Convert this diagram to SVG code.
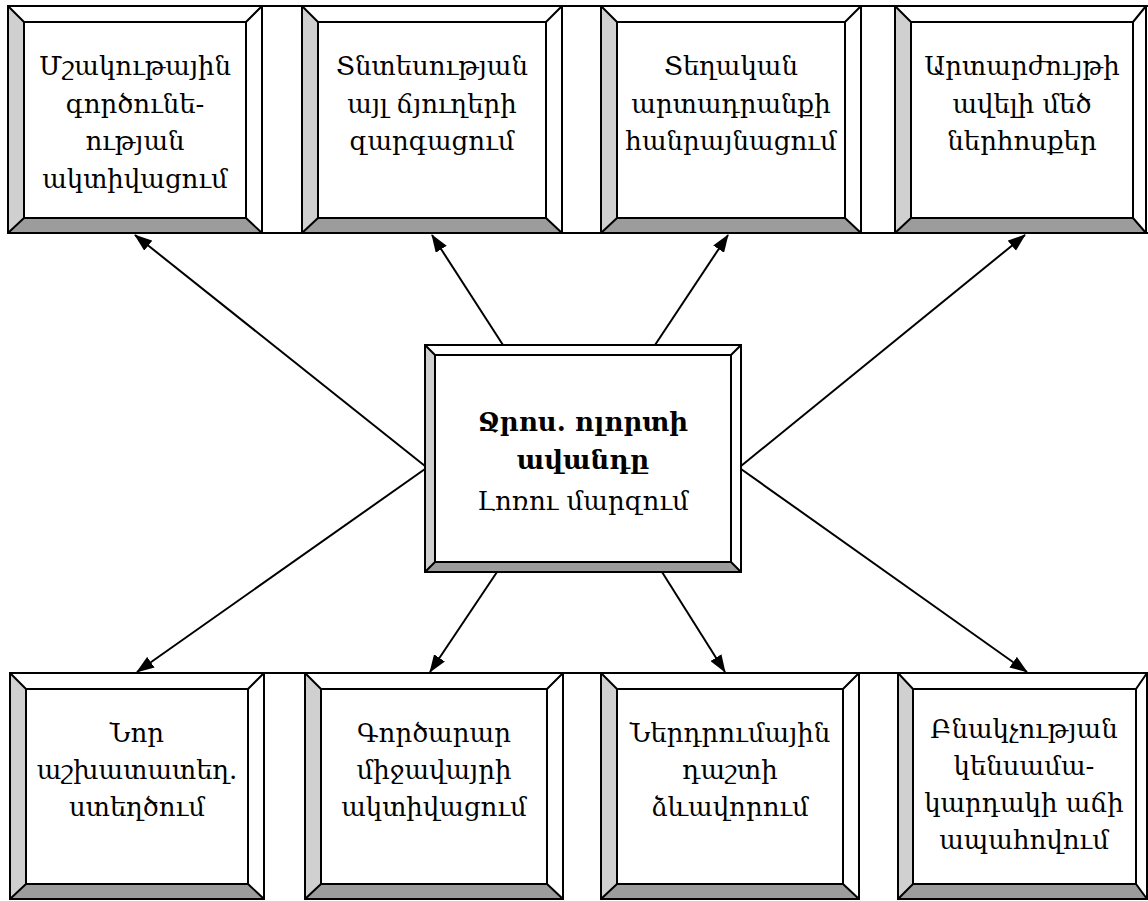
<svg xmlns="http://www.w3.org/2000/svg" width="1148" height="901" viewBox="0 0 1148 901">
<defs>
<style>
.t{fill:#fff}
.l{fill:#d0d0d0}
.b{fill:#9c9c9c}
.o{fill:none;stroke:#000;stroke-width:2}
.ln{stroke:#000;stroke-width:2;fill:none}
.tx{font-family:"DejaVu Serif","Noto Serif",serif;font-size:26px;text-anchor:middle;fill:#000}
.bd{font-weight:bold}
</style>
<marker id="ah" markerWidth="18" markerHeight="13" refX="17" refY="6.5" orient="auto" markerUnits="userSpaceOnUse">
<path d="M0,0 L18,6.5 L0,13 Z" fill="#000"/>
</marker>
</defs>
<rect width="1148" height="901" fill="#fff"/>
<g id="rows" class="ln">
<line x1="8" y1="6" x2="1148" y2="6"/>
<line x1="8" y1="233" x2="1148" y2="233"/>
<line x1="10" y1="673" x2="1148" y2="673"/>
</g>
<g id="connectors" class="ln">
<line x1="425" y1="466" x2="135" y2="235" marker-end="url(#ah)"/>
<line x1="503" y1="345" x2="432" y2="235" marker-end="url(#ah)"/>
<line x1="655" y1="345" x2="728" y2="235" marker-end="url(#ah)"/>
<line x1="741" y1="466" x2="1025" y2="235" marker-end="url(#ah)"/>
<line x1="425" y1="469" x2="137" y2="672" marker-end="url(#ah)"/>
<line x1="497" y1="572" x2="430" y2="672" marker-end="url(#ah)"/>
<line x1="662" y1="572" x2="725" y2="672" marker-end="url(#ah)"/>
<line x1="741" y1="469" x2="1027" y2="672" marker-end="url(#ah)"/>
</g>
<g id="top1">
<polygon class="t" points="8,6 262,6 246,22 24,22"/>
<polygon class="l" points="8,6 24,22 24,218 8,233"/>
<polygon class="b" points="8,233 24,218 246,218 262,233"/>
<polygon class="t" points="262,6 262,233 246,218 246,22"/>
<rect class="o" x="8" y="6" width="254" height="227"/>
<rect class="o" x="24" y="22" width="222" height="196" fill="#fff"/>
<path class="o" d="M8,6 L24,22 M262,6 L246,22 M8,233 L24,218 M262,233 L246,218"/>
<text class="tx" x="135" y="75">Մշակութային</text>
<text class="tx" x="135" y="113">գործունե-</text>
<text class="tx" x="135" y="150">ության</text>
<text class="tx" x="135" y="188">ակտիվացում</text>
</g>
<g id="top2">
<polygon class="l" points="302,6 318,22 318,218 302,233"/>
<polygon class="b" points="302,233 318,218 546,218 562,233"/>
<rect class="o" x="302" y="6" width="260" height="227"/>
<rect class="o" x="318" y="22" width="228" height="196" fill="#fff"/>
<path class="o" d="M302,6 L318,22 M562,6 L546,22 M302,233 L318,218 M562,233 L546,218"/>
<text class="tx" x="432" y="75">Տնտեսության</text>
<text class="tx" x="432" y="113">այլ ճյուղերի</text>
<text class="tx" x="432" y="150">զարգացում</text>
</g>
<g id="top3">
<polygon class="l" points="601,6 617,22 617,218 601,233"/>
<polygon class="b" points="601,233 617,218 845,218 861,233"/>
<rect class="o" x="601" y="6" width="260" height="227"/>
<rect class="o" x="617" y="22" width="228" height="196" fill="#fff"/>
<path class="o" d="M601,6 L617,22 M861,6 L845,22 M601,233 L617,218 M861,233 L845,218"/>
<text class="tx" x="731" y="75">Տեղական</text>
<text class="tx" x="731" y="113">արտադրանքի</text>
<text class="tx" x="731" y="150">հանրայնացում</text>
</g>
<g id="top4">
<polygon class="l" points="895,6 911,22 911,218 895,233"/>
<polygon class="b" points="895,233 911,218 1133,218 1146,233"/>
<rect class="o" x="895" y="6" width="251" height="227"/>
<rect class="o" x="911" y="22" width="222" height="196" fill="#fff"/>
<path class="o" d="M895,6 L911,22 M1146,6 L1133,22 M895,233 L911,218 M1146,233 L1133,218"/>
<text class="tx" x="1022" y="75">Արտարժույթի</text>
<text class="tx" x="1022" y="113">ավելի մեծ</text>
<text class="tx" x="1022" y="150">ներհոսքեր</text>
</g>
<g id="center">
<polygon class="l" points="425,345 435,355 435,562 425,572"/>
<polygon class="b" points="425,572 435,562 731,562 741,572"/>
<rect class="o" x="425" y="345" width="316" height="227"/>
<rect class="o" x="435" y="355" width="296" height="207" fill="#fff"/>
<path class="o" d="M425,345 L435,355 M741,345 L731,355 M425,572 L435,562 M741,572 L731,562"/>
<text class="tx bd" x="583" y="431">Ջրոս. ոլորտի</text>
<text class="tx bd" x="583" y="469">ավանդը</text>
<text class="tx" x="583" y="510">Լոռու մարզում</text>
</g>
<g id="bot1">
<polygon class="l" points="10,673 26,689 26,884 10,899"/>
<polygon class="b" points="10,899 26,884 248,884 264,899"/>
<rect class="o" x="10" y="673" width="254" height="226"/>
<rect class="o" x="26" y="689" width="222" height="195" fill="#fff"/>
<path class="o" d="M10,673 L26,689 M264,673 L248,689 M10,899 L26,884 M264,899 L248,884"/>
<text class="tx" x="137" y="742">Նոր</text>
<text class="tx" x="137" y="779">աշխատատեղ.</text>
<text class="tx" x="137" y="816">ստեղծում</text>
</g>
<g id="bot2">
<polygon class="l" points="305,673 321,689 321,884 305,899"/>
<polygon class="b" points="305,899 321,884 547,884 563,899"/>
<rect class="o" x="305" y="673" width="258" height="226"/>
<rect class="o" x="321" y="689" width="226" height="195" fill="#fff"/>
<path class="o" d="M305,673 L321,689 M563,673 L547,689 M305,899 L321,884 M563,899 L547,884"/>
<text class="tx" x="434" y="742">Գործարար</text>
<text class="tx" x="434" y="779">միջավայրի</text>
<text class="tx" x="434" y="816">ակտիվացում</text>
</g>
<g id="bot3">
<polygon class="l" points="601,673 617,689 617,884 601,899"/>
<polygon class="b" points="601,899 617,884 843,884 859,899"/>
<rect class="o" x="601" y="673" width="258" height="226"/>
<rect class="o" x="617" y="689" width="226" height="195" fill="#fff"/>
<path class="o" d="M601,673 L617,689 M859,673 L843,689 M601,899 L617,884 M859,899 L843,884"/>
<text class="tx" x="730" y="742">Ներդրումային</text>
<text class="tx" x="730" y="779">դաշտի</text>
<text class="tx" x="730" y="816">ձևավորում</text>
</g>
<g id="bot4">
<polygon class="l" points="898,673 913,689 913,884 898,899"/>
<polygon class="b" points="898,899 913,884 1136,884 1147,899"/>
<rect class="o" x="898" y="673" width="249" height="226"/>
<rect class="o" x="913" y="689" width="223" height="195" fill="#fff"/>
<path class="o" d="M898,673 L913,689 M1147,673 L1136,689 M898,899 L913,884 M1147,899 L1136,884"/>
<text class="tx" x="1024" y="738">Բնակչության</text>
<text class="tx" x="1024" y="775">կենսամա-</text>
<text class="tx" x="1024" y="812">կարդակի աճի</text>
<text class="tx" x="1024" y="849">ապահովում</text>
</g>
</svg>
